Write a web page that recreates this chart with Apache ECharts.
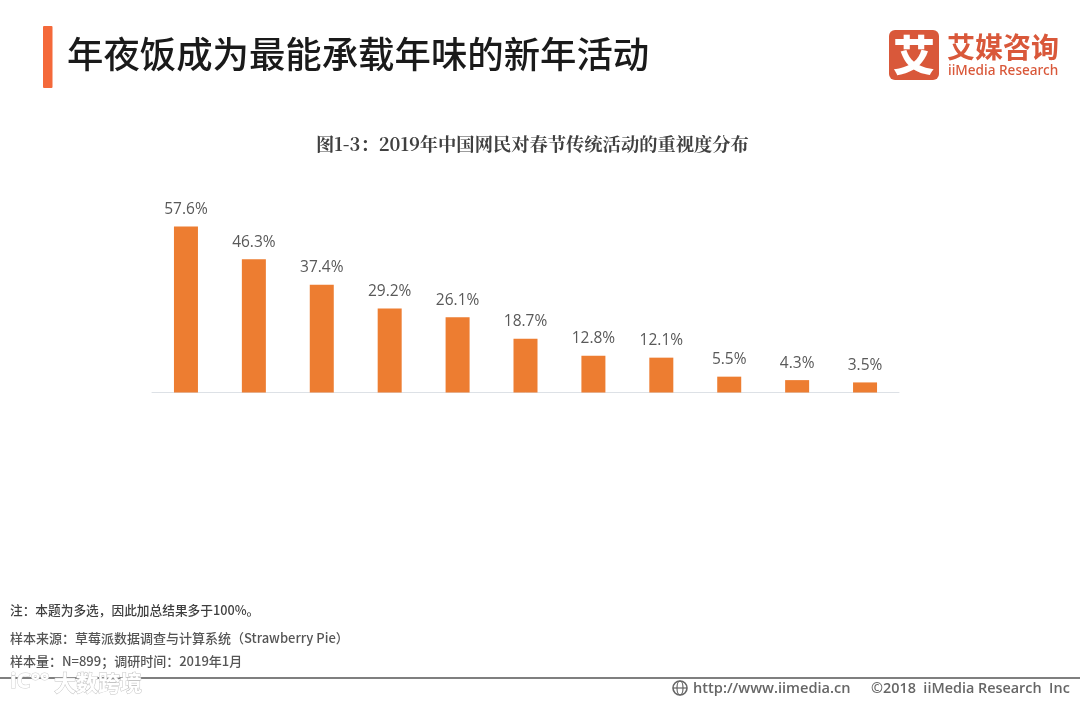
<!DOCTYPE html>
<html><head><meta charset="utf-8">
<style>html,body{margin:0;padding:0;background:#fff}#c{width:1080px;height:702px}</style>
<script src="https://cdn.jsdelivr.net/npm/echarts@6/dist/echarts.min.js"></script>
</head><body><div id="c"></div>
<script>
const categories = ['1','2','3','4','5','6','7','8','9','10','11'];
const values = [57.6,46.3,37.4,29.2,26.1,18.7,12.8,12.1,5.5,4.3,3.5];
const headline = '年夜饭成为最能承载年味的新年活动';
const subtitle = '图1-3：2019年中国网民对春节传统活动的重视度分布';
const notes = ['注：本题为多选，因此加总结果多于100%。','样本来源：草莓派数据调查与计算系统（Strawberry Pie）','样本量：N=899；调研时间：2019年1月'];
const cjk = '"Noto Sans CJK SC","Noto Sans",sans-serif';
const t = (x,y,text,font,fill,extra) => ({type:'text',x,y,silent:true,style:Object.assign({text,font,fill,textVerticalAlign:'middle'},extra||{})});
const chart = echarts.init(document.getElementById('c'),null,{renderer:'canvas'});
chart.setOption({
  animation:false,
  backgroundColor:'#fff',
  grid:{left:152,right:181,top:219.7,height:172.8,containLabel:false},
  xAxis:{type:'category',data:categories,axisLine:{lineStyle:{color:'#dde1e6',width:1}},axisTick:{show:false},axisLabel:{show:false}},
  yAxis:{type:'value',min:0,max:60,show:false,splitLine:{show:false}},
  series:[{type:'bar',data:values,barWidth:24,itemStyle:{color:'#ed7d31'},
    label:{show:true,position:'top',distance:9,formatter:p=>p.value.toFixed(1)+'%',color:'#595959',fontSize:15.5,fontFamily:'"Open Sans","Noto Sans",sans-serif'}}],
  graphic:[
    {type:'rect',silent:true,shape:{x:43,y:26,width:9.5,height:62,r:1},style:{fill:'#f4693a'}},
    t(67,54,headline,'500 36.4px '+cjk,'#1a1a1a'),
    t(316,144,subtitle,'700 18.3px "Noto Serif CJK SC","Noto Sans CJK SC",serif','#404040'),
    t(10,610,notes[0],'500 12.7px '+cjk,'#3f3f3f'),
    t(10,638,notes[1],'500 13px '+cjk,'#555'),
    t(10,661,notes[2],'500 13px '+cjk,'#555'),
    {type:'line',silent:true,shape:{x1:0,y1:678,x2:1080,y2:678},style:{stroke:'#7f7f7f',lineWidth:2}},
    // watermark
    t(54,683,'大数跨境','700 22px '+cjk,'#ffffff',{stroke:'#c4c4c4',lineWidth:1}),
    t(10,682,'iC°°','700 22px "Noto Sans",sans-serif','#ffffff',{stroke:'#cfcfcf',lineWidth:1}),
    // footer
    {type:'circle',silent:true,shape:{cx:680,cy:688,r:7},style:{fill:'none',stroke:'#666',lineWidth:1.6}},
    {type:'ellipse',silent:true,shape:{cx:680,cy:688,rx:3,ry:7},style:{fill:'none',stroke:'#666',lineWidth:1.2}},
    {type:'line',silent:true,shape:{x1:673,y1:688,x2:687,y2:688},style:{stroke:'#666',lineWidth:1.2}},
    t(693,689,'http://www.iimedia.cn','600 14.6px "Open Sans","Noto Sans",sans-serif','#666'),
    t(871,689,'©2018  iiMedia Research  Inc','600 14.4px "Open Sans","Noto Sans",sans-serif','#666'),
    // logo
    {type:'rect',silent:true,shape:{x:889,y:30,width:50,height:50,r:6},style:{fill:'#d9583a'}},
    t(893,55,'艾','900 42px '+cjk,'#fff'),
    t(947,47,'艾媒咨询','700 28px '+cjk,'#d9583a'),
    t(948,71,'iiMedia Research','500 13.6px "Noto Sans",sans-serif','#d9583a')
  ]
});
</script></body></html>
